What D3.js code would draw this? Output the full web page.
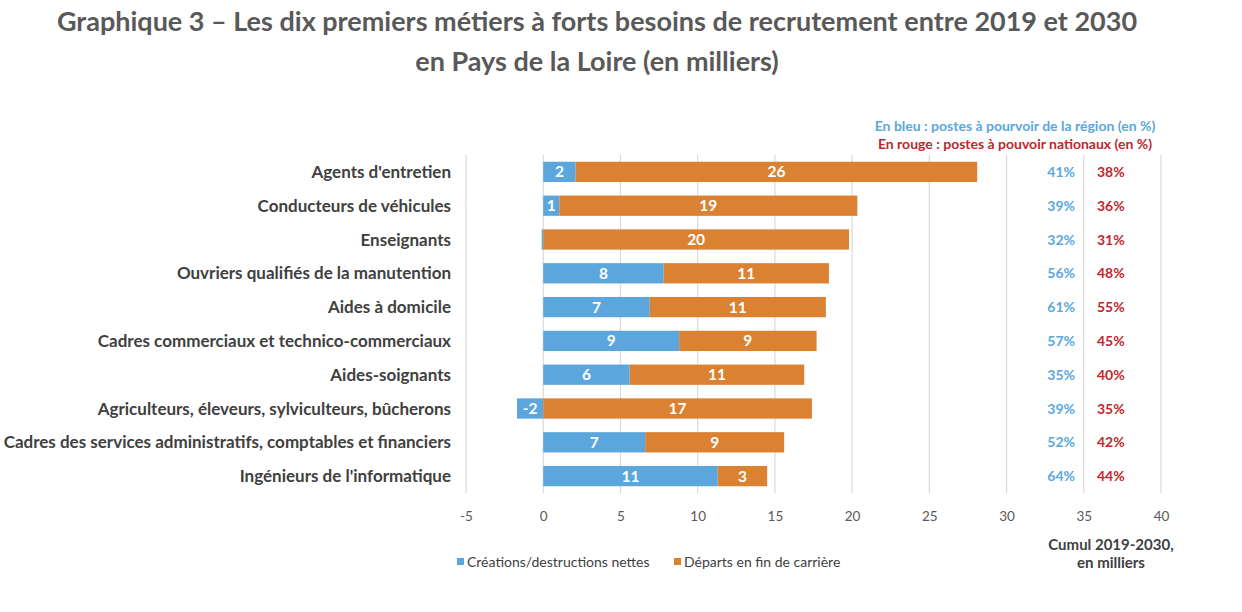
<!DOCTYPE html>
<html><head><meta charset="utf-8">
<script src="https://cdn.jsdelivr.net/npm/d3@7"></script>
<style>
html,body{margin:0;padding:0;background:#fff;}
svg text{font-family:Lato,"Open Sans",sans-serif;}
</style></head>
<body>
<svg id="c" width="1242" height="612"></svg>
<script>
const categories = ["Agents d'entretien","Conducteurs de véhicules","Enseignants","Ouvriers qualifiés de la manutention","Aides à domicile","Cadres commerciaux et technico-commerciaux","Aides-soignants","Agriculteurs, éleveurs, sylviculteurs, bûcherons","Cadres des services administratifs, comptables et financiers","Ingénieurs de l'informatique"];
const creations = [2.1, 1.04, -0.1, 7.8, 6.9, 8.8, 5.6, -1.7, 6.6, 11.3];
const departs = [26.0, 19.3, 19.8, 10.7, 11.4, 8.9, 11.3, 17.4, 9.0, 3.2];
const pctRegion = ["41%","39%","32%","56%","61%","57%","35%","39%","52%","64%"];
const pctNational = ["38%","36%","31%","48%","55%","45%","40%","35%","42%","44%"];
const xTicks = [-5,0,5,10,15,20,25,30,35,40];
const seriesNames = ["Créations/destructions nettes","Départs en fin de carrière"];

const blue = "#5BA7DD", orange = "#DB8132", red = "#C0272D", grey = "#595959", txt = "#404040";
const svg = d3.select("#c");

const x = d3.scaleLinear().domain([-5,40]).range([466,1161]);
const y = d3.scaleBand().domain(categories).range([155,493]).paddingInner(0.4).paddingOuter(0.2);

// title
svg.append("text").attr("x",597).attr("y",31).attr("text-anchor","middle")
  .attr("font-size",27).attr("font-weight",700).attr("fill",grey)
  .text("Graphique 3 – Les dix premiers métiers à forts besoins de recrutement entre 2019 et 2030");
svg.append("text").attr("x",597).attr("y",71).attr("text-anchor","middle")
  .attr("font-size",27).attr("font-weight",700).attr("fill",grey)
  .text("en Pays de la Loire (en milliers)");

// gridlines
const g = svg.append("g");
g.selectAll("line.grid").data(xTicks).join("line")
  .attr("x1",d=>x(d)).attr("x2",d=>x(d)).attr("y1",155).attr("y2",493)
  .attr("stroke","#d9d9d9").attr("stroke-width",1.2);

// axis
const axis = d3.axisBottom(x).tickValues(xTicks).tickSize(0).tickPadding(0).tickFormat(d=>String(d));
const ax = svg.append("g").attr("transform","translate(0,511)").call(axis);
ax.select(".domain").remove();
ax.selectAll("text").attr("font-size",13.5).attr("fill",grey).attr("font-family","Lato");

// bars
const rows = categories.map((c,i)=>({c, b:creations[i], o:departs[i], i}));
const bh = y.bandwidth();
svg.selectAll("rect.b").data(rows).join("rect")
  .attr("x",d=>x(Math.min(0,d.b))).attr("width",d=>Math.abs(x(d.b)-x(0)))
  .attr("y",d=>y(d.c)).attr("height",bh).attr("fill",blue);
svg.selectAll("rect.o").data(rows).join("rect")
  .attr("x",d=>x(Math.max(0,d.b))).attr("width",d=>x(Math.max(0,d.b)+d.o)-x(Math.max(0,d.b)))
  .attr("y",d=>y(d.c)).attr("height",bh).attr("fill",orange);

// bar labels
svg.selectAll("text.bl").data(rows.filter(d=>Math.abs(d.b)>=0.5)).join("text")
  .attr("x",d=>(x(0)+x(d.b))/2).attr("y",d=>y(d.c)+bh/2).attr("dy","0.36em")
  .attr("text-anchor","middle").attr("font-size",15.5).attr("font-weight",700).attr("fill","#fff")
  .text(d=>Math.round(d.b));
svg.selectAll("text.ol").data(rows).join("text")
  .attr("x",d=>(x(Math.max(0,d.b))+x(Math.max(0,d.b)+d.o))/2).attr("y",d=>y(d.c)+bh/2).attr("dy","0.36em")
  .attr("text-anchor","middle").attr("font-size",15.5).attr("font-weight",700).attr("fill","#fff")
  .text(d=>Math.round(d.o));

// category labels
svg.selectAll("text.cat").data(rows).join("text")
  .attr("x",451).attr("y",d=>y(d.c)+bh/2).attr("dy","0.36em").attr("text-anchor","end")
  .attr("font-size",17).attr("font-weight",700).attr("fill",txt).text(d=>d.c);

// percentages
svg.selectAll("text.pr").data(rows).join("text")
  .attr("x",1075).attr("y",d=>y(d.c)+bh/2).attr("dy","0.36em").attr("text-anchor","end")
  .attr("font-size",14).attr("font-weight",700).attr("fill",blue).text(d=>pctRegion[d.i]);
svg.selectAll("text.pn").data(rows).join("text")
  .attr("x",1097).attr("y",d=>y(d.c)+bh/2).attr("dy","0.36em").attr("text-anchor","start")
  .attr("font-size",14).attr("font-weight",700).attr("fill",red).text(d=>pctNational[d.i]);

// top-right legend
svg.append("text").attr("x",1015).attr("y",131).attr("text-anchor","middle")
  .attr("font-size",14).attr("font-weight",700).attr("fill",blue)
  .text("En bleu : postes à pourvoir de la région (en %)");
svg.append("text").attr("x",1015).attr("y",149).attr("text-anchor","middle")
  .attr("font-size",14).attr("font-weight",700).attr("fill",red)
  .text("En rouge : postes à pouvoir nationaux (en %)");

// bottom legend
const lg = svg.append("g");
const lx = [457, 674];
seriesNames.forEach((s,i)=>{
  lg.append("rect").attr("x",lx[i]).attr("y",558).attr("width",7).attr("height",7).attr("fill",i?orange:blue);
  lg.append("text").attr("x",lx[i]+10).attr("y",562).attr("dy","0.36em")
    .attr("font-size",14).attr("fill",txt).text(s);
});
svg.append("text").attr("x",1111).attr("y",545).attr("dy","0.36em").attr("text-anchor","middle")
  .attr("font-size",15).attr("font-weight",700).attr("fill",txt).text("Cumul 2019-2030,");
svg.append("text").attr("x",1111).attr("y",563).attr("dy","0.36em").attr("text-anchor","middle")
  .attr("font-size",15).attr("font-weight",700).attr("fill",txt).text("en milliers");
</script>
</body></html>
